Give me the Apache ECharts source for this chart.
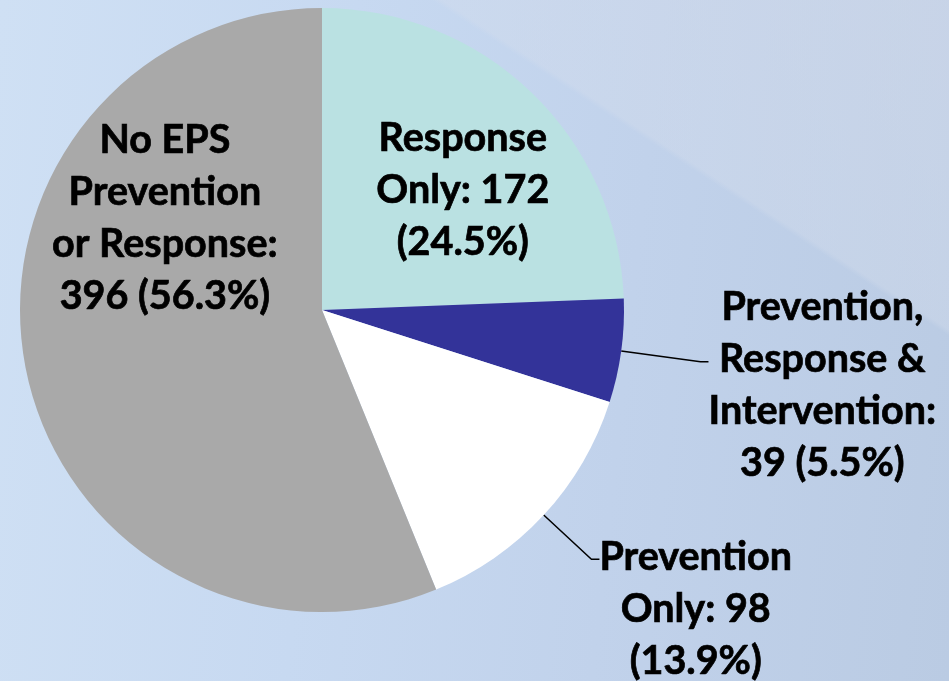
<!DOCTYPE html>
<html>
<head>
<meta charset="utf-8">
<script src="https://cdn.jsdelivr.net/npm/echarts@6/dist/echarts.min.js"></script>
<style>
html,body{margin:0;padding:0;width:949px;height:681px;overflow:hidden;}
body{
  background:
    linear-gradient(213deg, rgba(210,218,234,0.55) 0%, rgba(214,222,236,0.35) 25.4%, rgba(214,222,236,0) 25.9%),
    linear-gradient(96deg, #cfe0f4 0%, #c7d9f1 35%, #c1d2eb 65%, #bacbe3 100%);
}
#chart{width:949px;height:681px;}
</style>
</head>
<body>
<div id="chart"></div>
<script>
// ---- data ----
const categories = ["Response\nOnly", "Prevention,\nResponse &\nIntervention", "Prevention\nOnly", "No EPS\nPrevention\nor Response"];
const values = [172, 39, 98, 396];
const percents = [24.5, 5.5, 13.9, 56.3];
const breakAfterColon = [false, true, false, true];

// ---- styles ----
const colors = ["#BAE1E2", "#333399", "#FFFFFF", "#A9A9A9"];
const labelStyles = [
  { position: "inside" },
  { position: "outside", padding: [48, 0, 0, 0], distanceToLabelLine: 0, line: { length: 80, length2: 8 } },
  { position: "outside", padding: [100, 0, 0, 0], distanceToLabelLine: 0, line: { length: 65, length2: 8 } },
  { position: "inside" }
];
const insideShift = { 0: [34, -9], 3: [-6, -121] };

function labelText(i) {
  const name = categories[i];
  const txt = breakAfterColon[i]
    ? name + ":\n" + values[i] + " (" + percents[i] + "%)"
    : name + ": " + values[i] + "\n(" + percents[i] + "%)";
  return txt.split("\n").map(l => "{c|" + l + "}").join("\n");
}

const data = categories.map((name, i) => {
  const ls = labelStyles[i];
  const item = {
    name: name,
    value: values[i],
    itemStyle: { color: colors[i] },
    label: { position: ls.position }
  };
  if (ls.padding) item.label.padding = ls.padding;
  if (ls.distanceToLabelLine != null) item.label.distanceToLabelLine = ls.distanceToLabelLine;
  if (ls.line) item.labelLine = { show: true, length: ls.line.length, length2: ls.line.length2 };
  return item;
});

const chart = echarts.init(document.getElementById("chart"), null, { renderer: "canvas" });
chart.setOption({
  backgroundColor: "transparent",
  animation: false,
  series: [{
    type: "pie",
    center: [322, 310],
    radius: [0, 302],
    startAngle: 90,
    clockwise: true,
    avoidLabelOverlap: false,
    itemStyle: { borderWidth: 0 },
    label: {
      show: true,
      formatter: p => labelText(p.dataIndex),
      color: "#000",
      rich: {
        c: {
          align: "center",
          fontFamily: "Lato",
          fontWeight: "bold",
          fontSize: 39.5,
          lineHeight: 52,
          color: "#000",
          textBorderColor: "#000",
          textBorderWidth: 0.7
        }
      }
    },
    labelLine: {
      show: true,
      smooth: false,
      lineStyle: { color: "#000", width: 1.5 }
    },
    labelLayout: function (params) {
      const s = insideShift[params.dataIndex];
      if (s) return { dx: s[0], dy: s[1] };
      return {};
    },
    emphasis: { disabled: true },
    data: data
  }]
});
</script>
</body>
</html>
